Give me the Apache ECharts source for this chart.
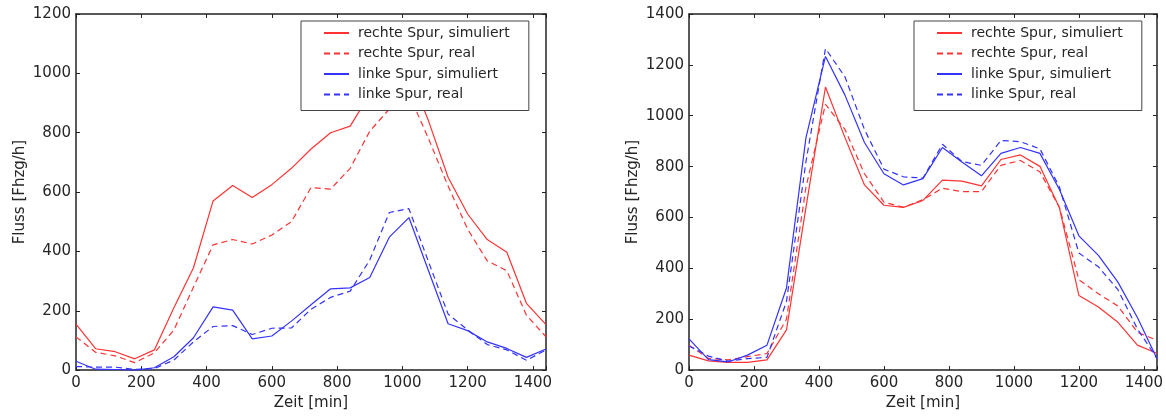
<!DOCTYPE html>
<html><head><meta charset="utf-8">
<script src="https://cdn.jsdelivr.net/npm/echarts@6/dist/echarts.min.js"></script>
<style>html,body{margin:0;padding:0;background:#fff}#c{width:1166px;height:416px}</style>
</head><body><div id="c"></div>
<script>
// time in minutes
const times = [0,60,120,180,240,300,360,420,480,540,600,660,720,780,840,900,960,1020,1080,1140,1200,1260,1320,1380,1440];
const xTicks = [0,200,400,600,800,1000,1200,1400];
const leftYTicks = [0,200,400,600,800,1000,1200];
const rightYTicks = [0,200,400,600,800,1000,1200,1400];
const seriesNames = ['rechte Spur, simuliert','rechte Spur, real','linke Spur, simuliert','linke Spur, real'];

// left chart
const L_rechteSim  = [155,72,62,38,68,210,345,570,622,582,625,680,745,800,822,930,990,1005,840,650,526,440,397,225,153];
const L_rechteReal = [112,60,48,25,58,135,280,422,440,425,455,500,615,610,680,805,880,930,780,620,475,368,335,185,112];
const L_linkeSim   = [30,3,2,0,8,45,109,213,202,105,115,165,220,274,277,312,448,514,335,156,133,95,73,43,71];
const L_linkeReal  = [12,10,10,2,5,34,95,147,150,120,141,142,205,245,266,371,531,544,365,189,135,86,68,33,68];

// right chart
const R_rechteSim  = [59,36,30,30,40,158,640,1113,914,728,648,640,667,747,743,724,828,846,801,638,293,248,188,98,66];
const R_rechteReal = [98,46,40,53,65,200,720,1045,946,772,660,640,670,715,702,702,805,824,779,640,355,300,252,149,117];
const R_linkeSim   = [123,41,32,59,98,323,914,1233,1081,895,772,728,753,875,818,764,852,875,852,710,528,451,346,207,46];
const R_linkeReal  = [95,55,35,45,50,270,820,1264,1153,946,790,760,755,888,820,805,903,898,870,720,460,406,316,162,46];

const RED = '#ff3333', BLUE = '#3333ff';
const TXT = '#262626', FRAME = '#222';
const FONT = 'DejaVu Sans';

function pairs(arr){ return times.map((t,i)=>[t,arr[i]]); }

function mkSeries(name, arr, color, dashed, gi){
  return {
    name, type:'line', data: pairs(arr), xAxisIndex: gi*2, yAxisIndex: gi*2,
    showSymbol:false, symbol:'none', animation:false,
    lineStyle:{color, width:1.2, type: dashed ? [6,4] : 'solid'},
    itemStyle:{color}
  };
}

function xAxes(gi){
  const base = {
    type:'value', gridIndex: gi, min:0, max:1440, interval:200,
    axisLine:{show:true, onZero:false, lineStyle:{color:FRAME, width:1.5}},
    axisTick:{show:true, inside:true, length:4, lineStyle:{color:FRAME}},
    splitLine:{show:false}
  };
  return [
    Object.assign({}, base, {position:'bottom',
      name:'Zeit [min]', nameLocation:'middle', nameGap:22,
      nameTextStyle:{fontFamily:FONT, fontSize:15, color:TXT},
      axisLabel:{fontFamily:FONT, fontSize:15, color:TXT, margin:6,
        formatter: v => xTicks.includes(v) ? String(v) : ''}}),
    Object.assign({}, base, {position:'top', axisLabel:{show:false}})
  ];
}

function yAxes(gi, max, ticks){
  const base = {
    type:'value', gridIndex: gi, min:0, max:max, interval:200,
    axisLine:{show:true, onZero:false, lineStyle:{color:FRAME, width:1.5}},
    axisTick:{show:true, inside:true, length:4, lineStyle:{color:FRAME}},
    splitLine:{show:false}
  };
  return [
    Object.assign({}, base, {position:'left',
      name:'Fluss [Fhzg/h]', nameLocation:'middle', nameGap:48,
      nameTextStyle:{fontFamily:FONT, fontSize:15, color:TXT},
      axisLabel:{fontFamily:FONT, fontSize:15, color:TXT, margin:5,
        formatter: v => ticks.includes(v) ? String(v) : ''}}),
    Object.assign({}, base, {position:'right', axisLabel:{show:false}})
  ];
}

function legend(left){
  return {
    left, top:21, orient:'vertical', selectedMode:false,
    itemWidth:25, itemHeight:14, itemGap:6.5,
    padding:[5,19,9,22],
    backgroundColor:'#fff', borderColor:'#444', borderWidth:1, borderRadius:0,
    itemStyle:{color:'rgba(0,0,0,0)', borderColor:'rgba(0,0,0,0)', borderWidth:0, opacity:0},
    textStyle:{fontFamily:FONT, fontSize:14, color:TXT, padding:[0,0,0,4]},
    data: seriesNames
  };
}

const chart = echarts.init(document.getElementById('c'), null, {renderer:'canvas'});
chart.setOption({
  animation:false,
  backgroundColor:'#fff',
  grid:[
    {left:76, right:620, top:14, bottom:39},
    {left:689, right:7, top:14, bottom:39}
  ],
  xAxis:[...xAxes(0), ...xAxes(1)],
  yAxis:[...yAxes(0,1200,leftYTicks), ...yAxes(1,1400,rightYTicks)],
  legend:[legend(301), legend(914)],
  series:[
    mkSeries(seriesNames[0], L_rechteSim, RED, false, 0),
    mkSeries(seriesNames[1], L_rechteReal, RED, true, 0),
    mkSeries(seriesNames[2], L_linkeSim, BLUE, false, 0),
    mkSeries(seriesNames[3], L_linkeReal, BLUE, true, 0),
    mkSeries(seriesNames[0], R_rechteSim, RED, false, 1),
    mkSeries(seriesNames[1], R_rechteReal, RED, true, 1),
    mkSeries(seriesNames[2], R_linkeSim, BLUE, false, 1),
    mkSeries(seriesNames[3], R_linkeReal, BLUE, true, 1)
  ]
});
</script>
</body></html>
